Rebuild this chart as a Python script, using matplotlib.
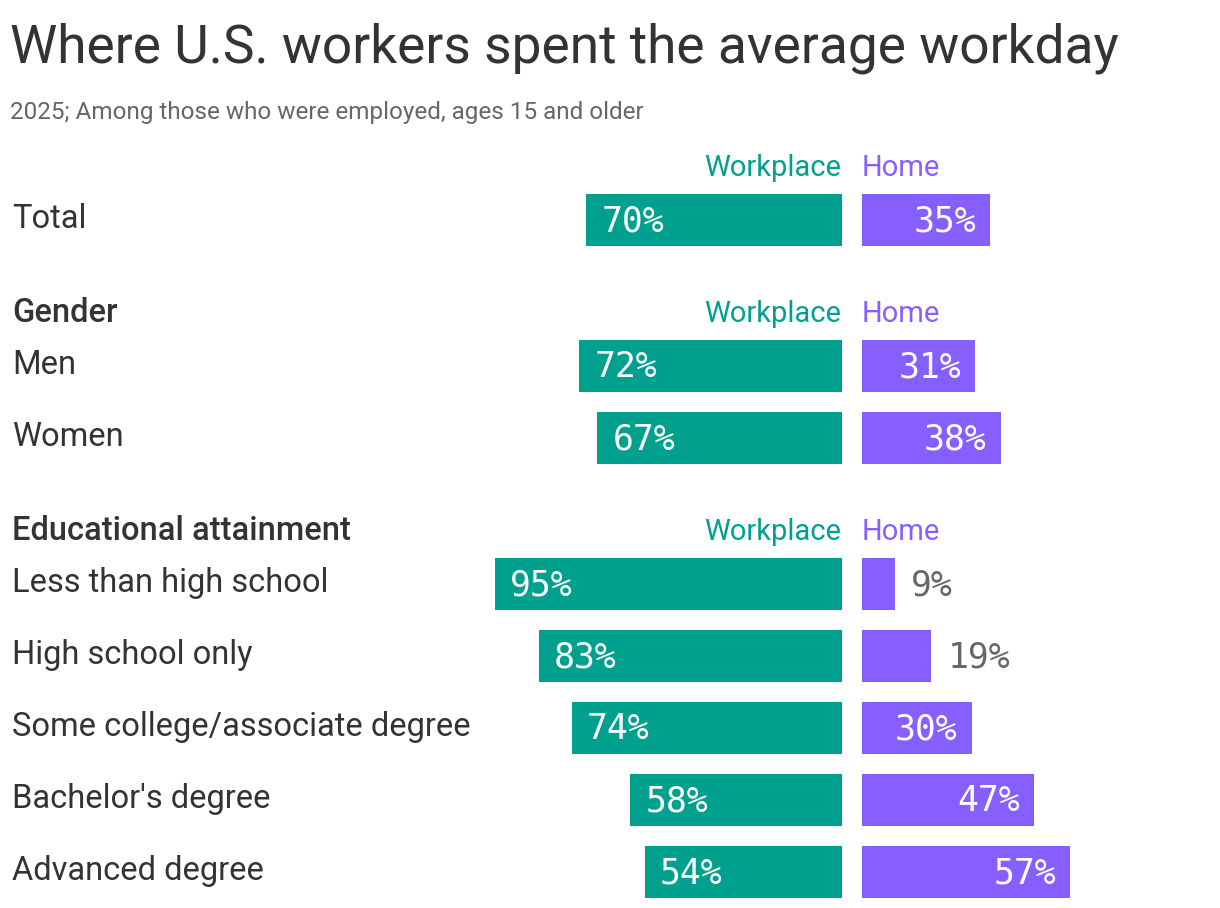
import numpy as np
import matplotlib.pyplot as plt

# data
categories = ['Total', 'Men', 'Women', 'Less than high school', 'High school only',
              'Some college/associate degree', "Bachelor's degree", 'Advanced degree']
workplace = [70, 72, 67, 95, 83, 74, 58, 54]
home = [35, 31, 38, 9, 19, 30, 47, 57]
sections = [None, 'Gender', 'Educational attainment']
section_sizes = [1, 2, 5]

teal = '#00A08F'
purple = '#875EFF'
dark = '#333333'
gray = '#666666'
font = 'Roboto'
mono = 'DejaVu Sans Mono'

W, H = 1220, 908
fig = plt.figure(figsize=(W / 100, H / 100), dpi=100)

def fx(px):
    return px / W

def fy(py):
    return 1 - py / H

# layout (pixel rows)
ppp = 3.65  # pixels per percent
head_y = []
bar_y = []
y = 167
for n in section_sizes:
    head_y.append(y)
    y += 53
    for i in range(n):
        bar_y.append(y)
        y += 72
    y += 21
bar_h = 52

axw = fig.add_axes([0, 0, fx(842), 1])
axh = fig.add_axes([fx(862), 0, fx(W - 862), 1])
axw.set_xlim(842 / ppp, 0)
axh.set_xlim(0, (W - 862) / ppp)
for ax in (axw, axh):
    ax.set_ylim(H, 0)
    ax.axis('off')

axw.barh(bar_y, workplace, height=bar_h, color=teal)
axh.barh(bar_y, home, height=bar_h, color=purple)

for yy, v in zip(bar_y, workplace):
    axw.annotate(f'{v}%', (v, yy + 11), xytext=(15, 0), textcoords='offset pixels',
                 ha='left', va='baseline', color='white', fontsize=25, family=mono)
for yy, v in zip(bar_y, home):
    if v < 20:
        axh.annotate(f'{v}%', (v, yy + 11), xytext=(16, 0), textcoords='offset pixels',
                     ha='left', va='baseline', color=gray, fontsize=25, family=mono)
    else:
        axh.annotate(f'{v}%', (v, yy + 11), xytext=(-14, 0), textcoords='offset pixels',
                     ha='right', va='baseline', color='white', fontsize=25, family=mono)

for yy, name in zip(bar_y, categories):
    fig.text(fx(12), fy(yy + 8), name, ha='left', va='baseline', fontsize=23.5,
             color=dark, family=font)

for hy, sec in zip(head_y, sections):
    fig.text(fx(841), fy(hy + 9), 'Workplace', ha='right', va='baseline', fontsize=21,
             color=teal, family=font)
    fig.text(fx(862), fy(hy + 9), 'Home', ha='left', va='baseline', fontsize=21,
             color=purple, family=font)
    if sec:
        fig.text(fx(12), fy(hy + 9), sec, ha='left', va='baseline', fontsize=23.5,
                 color=dark, family=font, weight='medium')

fig.text(fx(10), fy(63), 'Where U.S. workers spent the average workday', ha='left',
         va='baseline', fontsize=38.3, color=dark, family=font)
fig.text(fx(10), fy(119), '2025; Among those who were employed, ages 15 and older',
         ha='left', va='baseline', fontsize=17.5, color=gray, family=font)

fig.savefig('out.png', dpi=100)
